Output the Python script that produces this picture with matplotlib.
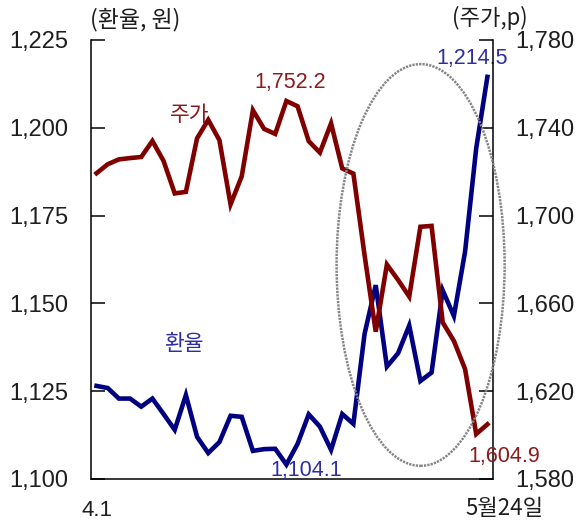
import matplotlib
matplotlib.use("Agg")
import matplotlib.pyplot as plt
from matplotlib import font_manager
from matplotlib.patches import Ellipse

# Trading days from April 1 to May 24
dates = ["4.1", "4.2", "4.5", "4.6", "4.7", "4.8", "4.9", "4.12", "4.13", "4.14",
         "4.15", "4.16", "4.19", "4.20", "4.21", "4.22", "4.23", "4.26", "4.27",
         "4.28", "4.29", "4.30", "5.3", "5.4", "5.6", "5.7", "5.10", "5.11",
         "5.12", "5.13", "5.14", "5.17", "5.18", "5.19", "5.20", "5.24"]

# Won/dollar exchange rate (left axis)
usdkrw = [1126.5, 1125.9, 1122.9, 1122.9, 1120.6, 1122.9, 1118.5, 1114.0,
          1123.9, 1112.0, 1107.4, 1110.5, 1118.0, 1117.7, 1108.0, 1108.5,
          1108.6, 1104.1, 1110.0, 1118.4, 1114.9, 1108.3, 1118.5, 1115.7,
          1141.3, 1155.2, 1132.0, 1135.8, 1143.7, 1127.9, 1130.3, 1153.7,
          1146.4, 1164.7, 1194.2, 1214.5]

# Stock index (right axis)
kospi = [1719.3, 1723.4, 1725.6, 1726.2, 1726.7, 1734.0, 1724.9, 1710.1,
         1710.8, 1735.2, 1743.6, 1734.4, 1705.1, 1717.9, 1748.0, 1739.5,
         1737.2, 1752.2, 1749.8, 1733.9, 1728.7, 1742.0, 1721.5, 1719.1,
         1682.0, 1647.1, 1677.7, 1670.7, 1663.1, 1694.9, 1695.3, 1651.3,
         1642.9, 1630.1, 1600.5, 1604.9]

left_ticks = [1100, 1125, 1150, 1175, 1200, 1225]
right_ticks = [1580, 1620, 1660, 1700, 1740, 1780]

names = {f.name for f in font_manager.fontManager.ttflist}
num_font = "Liberation Sans Narrow" if "Liberation Sans Narrow" in names else "Liberation Sans"
kr_font = ["Noto Sans CJK KR", "DejaVu Sans"]

BLUE = "#000080"
RED = "#800000"
BLUE_TXT = "#2e2ea0"
RED_TXT = "#8c1a1a"
INK = "#1e1e1e"

fig = plt.figure(figsize=(5.78, 5.22), dpi=100)
ax = fig.add_axes([0.1574, 0.0824, 0.6955, 0.841])
ax2 = ax.twinx()

x = list(range(len(dates)))
ax.plot(x, usdkrw, color=BLUE, lw=3.3, solid_joinstyle="miter", zorder=3)
ax2.plot(x, kospi, color=RED, lw=3.3, solid_joinstyle="miter", zorder=3)

ax.set_xlim(-0.5, len(dates) - 0.5)
ax.set_ylim(left_ticks[0], left_ticks[-1])
ax2.set_ylim(right_ticks[0], right_ticks[-1])

ax.set_yticks(left_ticks, [f"{v:,}" for v in left_ticks])
ax2.set_yticks(right_ticks, [f"{v:,}" for v in right_ticks])
ax.set_xticks([])

for a in (ax, ax2):
    a.spines["top"].set_visible(False)
    for s in a.spines.values():
        s.set_linewidth(1.1)
ax.spines["right"].set_visible(False)
ax2.spines["left"].set_visible(False)
ax2.spines["bottom"].set_visible(False)

ax.tick_params(axis="y", direction="in", length=10, width=1.1, pad=16.5,
               labelsize=17)
ax2.tick_params(axis="y", direction="in", length=10, width=1.1, pad=16,
                labelsize=17)
for lab in ax.get_yticklabels() + ax2.get_yticklabels():
    lab.set_fontfamily(num_font)
    lab.set_color(INK)

# x-axis end labels
ax.annotate(dates[0], xy=(0, 0), xycoords=("data", "axes fraction"),
            xytext=(0, -22.5), textcoords="offset points", ha="center", va="center",
            fontsize=16, family=num_font, color=INK)
ax.annotate("5월24일", xy=(len(dates) - 1, 0), xycoords=("data", "axes fraction"),
            xytext=(12, -21), textcoords="offset points", ha="center", va="center",
            fontsize=16, family=kr_font, color=INK)

# Axis unit captions
fig.text(135 / 578, 1 - 20 / 522, "(환율, 원)", ha="center", va="center",
         fontsize=16.5, family=kr_font, color=INK)
fig.text(490 / 578, 1 - 18 / 522, "(주가,p)", ha="center", va="center",
         fontsize=16, family=kr_font, color=INK)

# Series names
ax2.text(0.245, 0.83, "주가", transform=ax.transAxes, ha="center", va="center",
         fontsize=15.5, family=kr_font, color=RED_TXT)
ax.text(0.23, 0.308, "환율", transform=ax.transAxes, ha="center", va="center",
        fontsize=15.5, family=kr_font, color=BLUE_TXT)

# Value annotations
i_max = kospi.index(max(kospi))
ax2.annotate(f"{kospi[i_max]:,.1f}", xy=(i_max, kospi[i_max]), xytext=(3, 13),
             textcoords="offset points", ha="center", va="center", fontsize=15.5,
             family=num_font, color=RED_TXT)
i_min = usdkrw.index(min(usdkrw))
ax.annotate(f"{usdkrw[i_min]:,.1f}", xy=(i_min, usdkrw[i_min]), xytext=(14, -4),
            textcoords="offset points", ha="center", va="center", fontsize=15.5,
            family=num_font, color=BLUE_TXT, zorder=5)
ax.annotate(f"{usdkrw[-1]:,.1f}", xy=(len(dates) - 1, usdkrw[-1]), xytext=(-11, 13),
            textcoords="offset points", ha="center", va="center", fontsize=15.5,
            family=num_font, color=BLUE_TXT)
ax2.annotate(f"{kospi[-1]:,.1f}", xy=(len(dates) - 1, kospi[-1]), xytext=(12, -23),
             textcoords="offset points", ha="center", va="center", fontsize=15.5,
             family=num_font, color=RED_TXT)

# Highlight of the late-period turmoil
ell = Ellipse((0.82, 0.4875), 0.418, 0.915, transform=ax.transAxes, fill=False,
              edgecolor="#858585", lw=1.8, linestyle=(0, (0.9, 0.45)),
              clip_on=False, zorder=6)
ax2.add_patch(ell)

fig.savefig("out.png", dpi=100)
